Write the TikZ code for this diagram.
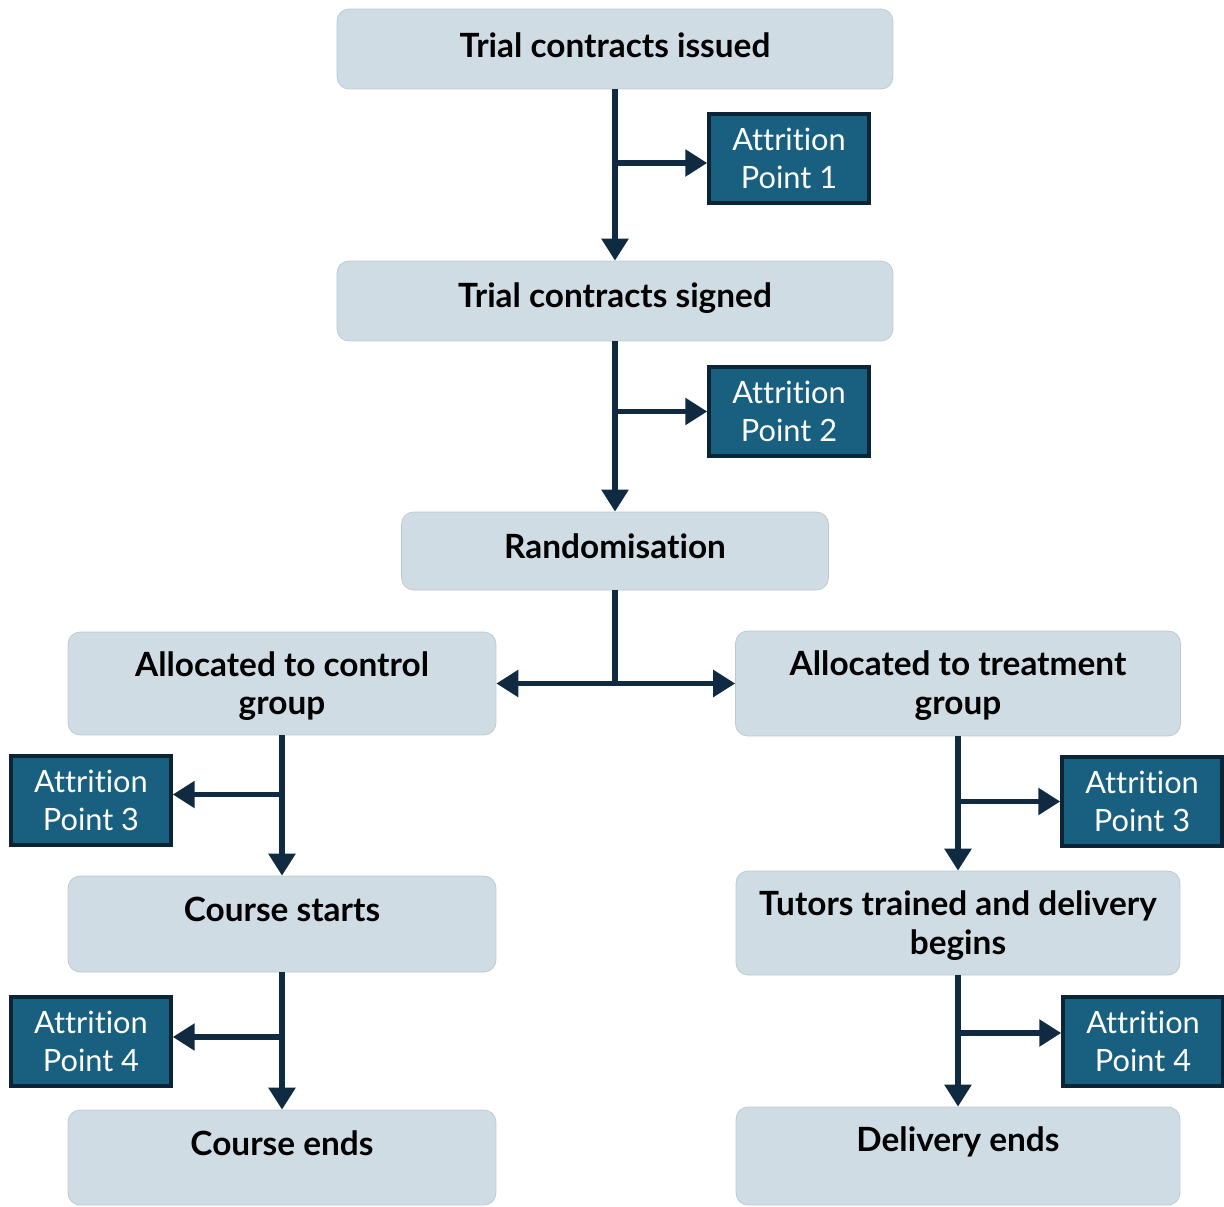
\documentclass[tikz,border=0pt]{standalone}
\usepackage{fontspec}
\setmainfont{Lato}[Ligatures=NoCommon]
\usetikzlibrary{arrows.meta}
\definecolor{stagefill}{HTML}{D0DCE4}
\definecolor{stageline}{HTML}{BCC8D0}
\definecolor{attrfill}{HTML}{185F80}
\definecolor{attrline}{HTML}{0C2536}
\definecolor{flowline}{HTML}{102A42}
\begin{document}
\begin{tikzpicture}[x=0.02cm,y=-0.02cm,
  stage/.style={draw=stageline, line width=0.4pt, fill=stagefill, rounded corners=0.24cm},
  stagetext/.style={font=\fontsize{19}{22}\selectfont\bfseries, align=center, text=black, inner sep=0pt},
  attr/.style={draw=attrline, line width=2pt, fill=attrfill, text=white, align=center,
    font=\fontsize{17.5}{21.5}\selectfont, minimum width=3.2cm, minimum height=1.78cm, inner sep=0pt},
  flow/.style={draw=flowline, line width=3.3pt, -{Triangle[length=0.44cm,width=0.52cm]}},
  trunk/.style={draw=flowline, line width=3.3pt}]
\useasboundingbox (0,0) rectangle (1224,1207);
% light stage box with its caption
\newcommand\stagebox[7]{
\node[stage, minimum width=#4cm, minimum height=#5cm] (#1) at (#2,#3) {};
\node[stagetext] (#1-text) at (#2,#6) {#7};
}
% centre column
\stagebox{issued}{615}{49}{11.12}{1.6}{45}{Trial contracts issued}
\stagebox{signed}{615}{301}{11.12}{1.6}{298}{Trial contracts signed}
\stagebox{rand}{615}{551}{8.54}{1.56}{546}{Randomisation}
\node[attr] (ap1) at (789,158.5) {Attrition\\Point 1};
\node[attr] (ap2) at (789,411.5) {Attrition\\Point 2};
% control arm
\stagebox{control}{282}{683.5}{8.56}{2.06}{686}{Allocated to control\\group}
\stagebox{cstart}{282}{924}{8.56}{1.92}{909}{Course starts}
\stagebox{cend}{282}{1157.5}{8.56}{1.9}{1143}{Course ends}
\node[attr] (ap3l) at (91,800.5) {Attrition\\Point 3};
\node[attr] (ap4l) at (91,1041.5) {Attrition\\Point 4};
% treatment arm
\stagebox{treat}{958}{683.5}{8.9}{2.1}{685.5}{Allocated to treatment\\group}
\stagebox{tutors}{958}{923}{8.88}{2.08}{925.5}{Tutors trained and delivery\\begins}
\stagebox{dend}{958}{1156}{8.88}{1.96}{1142}{Delivery ends}
\node[attr] (ap3r) at (1142,801.5) {Attrition\\Point 3};
\node[attr] (ap4r) at (1143,1041.5) {Attrition\\Point 4};
% connectors
\path[flow] (issued.south) -- (signed.north);
\path[flow] ([yshift=-0.09cm]issued.south |- ap1.west) -- ([yshift=-0.09cm]ap1.west);
\path[flow] (signed.south) -- (rand.north);
\path[flow] (signed.south |- ap2.west) -- (ap2.west);
\path[trunk] (rand.south) -- (rand.south |- control.east);
\path[flow] (rand.south |- control.east) -- (control.east);
\path[flow] (rand.south |- treat.west) -- (treat.west);
\path[flow] (control.south) -- (cstart.north);
\path[flow] ([yshift=0.12cm]control.south |- ap3l.east) -- ([yshift=0.12cm]ap3l.east);
\path[flow] (cstart.south) -- (cend.north);
\path[flow] ([yshift=0.09cm]cstart.south |- ap4l.east) -- ([yshift=0.09cm]ap4l.east);
\path[flow] (treat.south) -- (tutors.north);
\path[flow] (treat.south |- ap3r.west) -- (ap3r.west);
\path[flow] (tutors.south) -- (dend.north);
\path[flow] ([yshift=0.17cm]tutors.south |- ap4r.west) -- ([yshift=0.17cm]ap4r.west);
\end{tikzpicture}
\end{document}
